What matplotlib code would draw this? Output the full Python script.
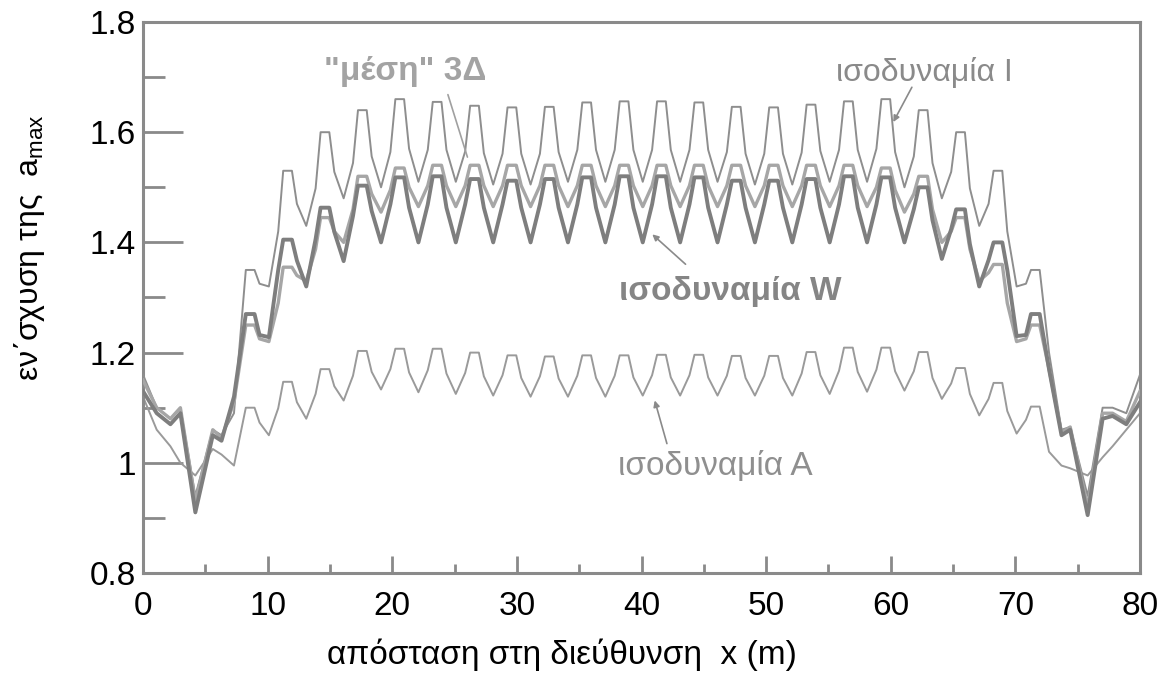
import matplotlib
matplotlib.use("Agg")
import matplotlib.pyplot as plt
from matplotlib.ticker import MultipleLocator, FixedLocator

plt.rcParams['font.family'] = ['Liberation Sans', 'DejaVu Sans']

# ---------------- data ----------------
x_m = [0.0, 1.1, 2.2, 3.0, 4.2, 5.6, 6.3, 7.3,
       8.25, 8.95, 9.35, 10.1, 10.85,
       11.25, 11.95, 12.35, 13.1, 13.85,
       14.25, 14.95, 15.35, 16.1, 16.85,
       17.25, 17.95, 18.35, 19.1, 19.85,
       20.25, 20.95, 21.35, 22.1, 22.85,
       23.25, 23.95, 24.35, 25.1, 25.85,
       26.25, 26.95, 27.35, 28.1, 28.85,
       29.25, 29.95, 30.35, 31.1, 31.85,
       32.25, 32.95, 33.35, 34.1, 34.85,
       35.25, 35.95, 36.35, 37.1, 37.85,
       38.25, 38.95, 39.35, 40.1, 40.85,
       41.25, 41.95, 42.35, 43.1, 43.85,
       44.25, 44.95, 45.35, 46.1, 46.85,
       47.25, 47.95, 48.35, 49.1, 49.85,
       50.25, 50.95, 51.35, 52.1, 52.85,
       53.25, 53.95, 54.35, 55.1, 55.85,
       56.25, 56.95, 57.35, 58.1, 58.85,
       59.25, 59.95, 60.35, 61.1, 61.85,
       62.25, 62.95, 63.35, 64.1, 64.85,
       65.25, 65.95, 66.35, 67.1, 67.85,
       68.25, 68.95, 69.35, 70.1, 70.85,
       71.25, 71.95,
       72.7, 73.7, 74.4, 75.8, 77.0, 77.8, 78.9, 80.0]

iso_I = [1.16, 1.10, 1.08, 1.10, 0.94, 1.06, 1.05, 1.09,
         1.35, 1.35, 1.325, 1.32, 1.42,
         1.53, 1.53, 1.47, 1.43, 1.498,
         1.60, 1.60, 1.528, 1.48, 1.544,
         1.64, 1.64, 1.556, 1.50, 1.564,
         1.66, 1.66, 1.57, 1.51, 1.568,
         1.655, 1.655, 1.568, 1.51, 1.565,
         1.648, 1.648, 1.562, 1.505, 1.561,
         1.645, 1.645, 1.561, 1.505, 1.561,
         1.646, 1.646, 1.564, 1.51, 1.568,
         1.654, 1.654, 1.568, 1.51, 1.568,
         1.656, 1.656, 1.568, 1.51, 1.568,
         1.656, 1.656, 1.568, 1.51, 1.568,
         1.654, 1.654, 1.568, 1.51, 1.564,
         1.646, 1.646, 1.561, 1.505, 1.561,
         1.645, 1.645, 1.561, 1.505, 1.563,
         1.65, 1.65, 1.566, 1.51, 1.568,
         1.656, 1.656, 1.568, 1.51, 1.57,
         1.66, 1.66, 1.564, 1.50, 1.556,
         1.64, 1.64, 1.544, 1.48, 1.528,
         1.60, 1.60, 1.498, 1.43, 1.47,
         1.53, 1.53, 1.42, 1.32, 1.325,
         1.35, 1.35,
         1.20, 1.06, 1.065, 0.94, 1.10, 1.10, 1.09, 1.16]

iso_W = [1.13, 1.09, 1.07, 1.09, 0.91, 1.05, 1.04, 1.12,
         1.27, 1.27, 1.232, 1.228, 1.35,
         1.405, 1.405, 1.367, 1.32, 1.406,
         1.463, 1.463, 1.419, 1.366, 1.448,
         1.503, 1.503, 1.457, 1.40, 1.469,
         1.518, 1.518, 1.463, 1.40, 1.469,
         1.52, 1.52, 1.463, 1.40, 1.469,
         1.515, 1.515, 1.463, 1.40, 1.469,
         1.512, 1.512, 1.463, 1.40, 1.469,
         1.515, 1.515, 1.463, 1.40, 1.469,
         1.518, 1.518, 1.463, 1.40, 1.469,
         1.52, 1.52, 1.463, 1.40, 1.469,
         1.52, 1.52, 1.463, 1.40, 1.469,
         1.518, 1.518, 1.463, 1.40, 1.469,
         1.512, 1.512, 1.463, 1.40, 1.469,
         1.512, 1.512, 1.463, 1.40, 1.469,
         1.515, 1.515, 1.463, 1.40, 1.469,
         1.52, 1.52, 1.463, 1.40, 1.469,
         1.518, 1.518, 1.463, 1.40, 1.46,
         1.50, 1.50, 1.44, 1.37, 1.424,
         1.46, 1.46, 1.397, 1.32, 1.368,
         1.40, 1.40, 1.35, 1.23, 1.232,
         1.27, 1.27,
         1.17, 1.05, 1.06, 0.905, 1.08, 1.085, 1.07, 1.11]

iso_mesi = [1.15, 1.10, 1.08, 1.10, 0.93, 1.06, 1.045, 1.11,
            1.25, 1.25, 1.225, 1.22, 1.29,
            1.355, 1.355, 1.34, 1.33, 1.388,
            1.445, 1.445, 1.42, 1.40, 1.46,
            1.52, 1.52, 1.488, 1.455, 1.495,
            1.535, 1.535, 1.50, 1.465, 1.503,
            1.54, 1.54, 1.503, 1.465, 1.503,
            1.54, 1.54, 1.503, 1.465, 1.503,
            1.54, 1.54, 1.503, 1.465, 1.503,
            1.54, 1.54, 1.503, 1.465, 1.503,
            1.54, 1.54, 1.503, 1.465, 1.503,
            1.54, 1.54, 1.503, 1.465, 1.503,
            1.54, 1.54, 1.503, 1.465, 1.503,
            1.54, 1.54, 1.503, 1.465, 1.503,
            1.54, 1.54, 1.503, 1.465, 1.503,
            1.54, 1.54, 1.503, 1.465, 1.503,
            1.54, 1.54, 1.503, 1.465, 1.503,
            1.54, 1.54, 1.503, 1.465, 1.50,
            1.535, 1.535, 1.495, 1.455, 1.488,
            1.52, 1.52, 1.46, 1.40, 1.42,
            1.445, 1.445, 1.388, 1.33, 1.345,
            1.36, 1.36, 1.29, 1.22, 1.225,
            1.25, 1.25,
            1.17, 1.055, 1.065, 0.92, 1.09, 1.09, 1.075, 1.13]

iso_A = [1.12, 1.06, 1.03, 1.00, 0.977, 1.025, 1.015, 0.995,
         1.10, 1.10, 1.073, 1.05, 1.099,
         1.147, 1.147, 1.110, 1.08, 1.125,
         1.17, 1.17, 1.139, 1.113, 1.158,
         1.203, 1.203, 1.165, 1.133, 1.170,
         1.207, 1.207, 1.164, 1.128, 1.168,
         1.207, 1.207, 1.162, 1.125, 1.163,
         1.20, 1.20, 1.157, 1.122, 1.159,
         1.195, 1.195, 1.154, 1.12, 1.157,
         1.193, 1.193, 1.153, 1.12, 1.158,
         1.195, 1.195, 1.154, 1.12, 1.158,
         1.195, 1.195, 1.155, 1.122, 1.159,
         1.196, 1.196, 1.155, 1.122, 1.159,
         1.196, 1.196, 1.155, 1.122, 1.158,
         1.194, 1.194, 1.154, 1.122, 1.158,
         1.194, 1.194, 1.154, 1.122, 1.162,
         1.201, 1.201, 1.159, 1.125, 1.167,
         1.209, 1.209, 1.165, 1.129, 1.169,
         1.209, 1.209, 1.166, 1.131, 1.166,
         1.201, 1.201, 1.154, 1.116, 1.144,
         1.172, 1.172, 1.125, 1.086, 1.116,
         1.145, 1.145, 1.094, 1.053, 1.078,
         1.102, 1.102,
         1.02, 0.995, 0.99, 0.977, 1.01, 1.03, 1.06, 1.09]

x_ticks = [0, 10, 20, 30, 40, 50, 60, 70, 80]
y_ticks = [0.8, 1.0, 1.2, 1.4, 1.6, 1.8]
y_tick_labels = ['0.8', '1', '1.2', '1.4', '1.6', '1.8']

label_I = 'ισοδυναμία I'
label_W = 'ισοδυναμία W'
label_A = 'ισοδυναμία A'
label_mesi = '"μέση" 3Δ'
x_label = 'απόσταση στη διεύθυνση  x (m)'
y_label = 'εν΄σχυση της  a$_{\\mathregular{max}}$'

for arr in (iso_I, iso_W, iso_mesi, iso_A):
    assert len(arr) == len(x_m)

# ---------------- figure ----------------
fig = plt.figure(figsize=(11.66, 6.81), dpi=100)
ax = fig.add_axes([143 / 1166, 108 / 681, 997 / 1166, 551 / 681])

ax.plot(x_m, iso_A, color='#9a9a9a', lw=1.4, zorder=2)
ax.plot(x_m, iso_I, color='#8e8e8e', lw=1.4, zorder=3)
ax.plot(x_m, iso_mesi, color='#a6a6a6', lw=2.4, zorder=4)
ax.plot(x_m, iso_W, color='#7e7e7e', lw=2.8, zorder=5)

ax.set_xlim(0, 80)
ax.set_ylim(0.8, 1.8)

frame_c = '#8a8a8a'
for s in ax.spines.values():
    s.set_color(frame_c)
    s.set_linewidth(2.2)

ax.xaxis.set_major_locator(FixedLocator(x_ticks))
ax.xaxis.set_minor_locator(MultipleLocator(5))
ax.yaxis.set_major_locator(FixedLocator(y_ticks))
ax.yaxis.set_minor_locator(MultipleLocator(0.1))
ax.set_yticklabels(y_tick_labels)
ax.set_xticklabels([str(v) for v in x_ticks])

ax.tick_params(axis='x', which='major', direction='in', length=12, width=2,
               color=frame_c, labelsize=24, pad=13, top=False)
ax.tick_params(axis='x', which='minor', direction='in', length=6.5, width=2,
               color=frame_c, top=False)
ax.tick_params(axis='y', which='major', direction='in', length=29, width=2,
               color=frame_c, labelsize=24, pad=5, right=False)
ax.tick_params(axis='y', which='minor', direction='in', length=16, width=2,
               color=frame_c, right=False)

# labels
fig.text(562 / 1166, 1 - 655 / 681, x_label, ha='center', va='center', fontsize=24)
fig.text(30 / 1166, 1 - 248 / 681, y_label, ha='center', va='center',
         rotation=90, fontsize=23)

# annotations
ax.text(21.0, 1.711, label_mesi, ha='center', va='center', fontsize=24,
        fontweight='bold', color='#a3a3a3')
ax.text(62.7, 1.708, label_I, ha='center', va='center', fontsize=23,
        color='#8a8a8a')
ax.text(47.1, 1.31, label_W, ha='center', va='center', fontsize=24,
        fontweight='bold', color='#858585')
ax.text(45.9, 0.994, label_A, ha='center', va='center', fontsize=24,
        color='#8f8f8f')

arrow_kw = dict(arrowstyle='-|>', color='#8a8a8a', lw=1.2, mutation_scale=9)
ax.annotate('', xy=(60.1, 1.614), xytext=(61.8, 1.686), arrowprops=arrow_kw)
ax.annotate('', xy=(26.1, 1.55), xytext=(24.4, 1.673),
            arrowprops=dict(arrowstyle='-', color='#a0a0a0', lw=1.2))
ax.annotate('', xy=(40.7, 1.418), xytext=(43.7, 1.357), arrowprops=arrow_kw)
ax.annotate('', xy=(41.0, 1.118), xytext=(42.1, 1.03), arrowprops=arrow_kw)

fig.savefig('out.png', dpi=100)
